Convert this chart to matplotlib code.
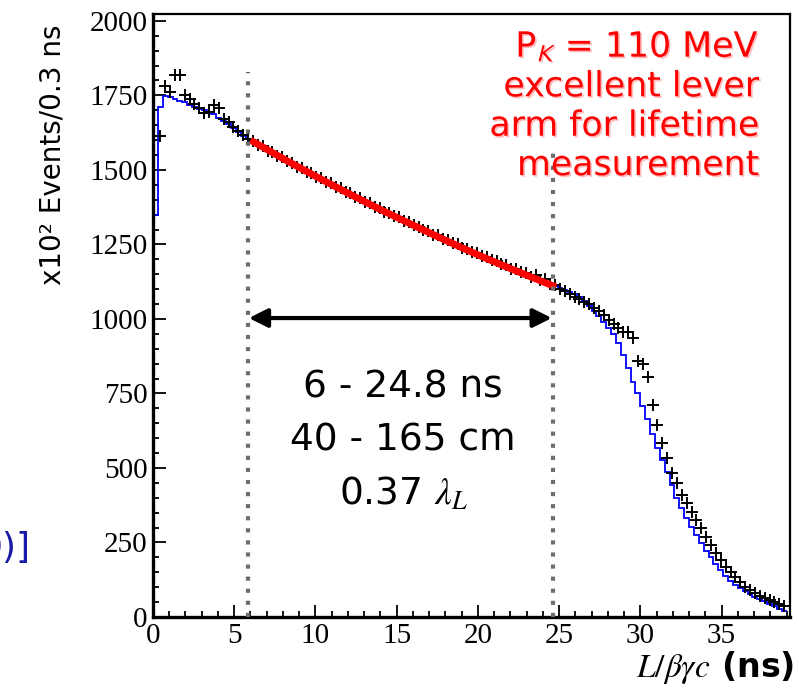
import numpy as np
import matplotlib
matplotlib.use("Agg")
import matplotlib.pyplot as plt
import matplotlib.patheffects as pe

plt.rcParams["mathtext.fontset"] = "stix"

# histogram (blue), bins of 0.3 ns from 0 to 39 ns
bin_width = 0.3
hist_early = [1350, 1712, 1748, 1745, 1738, 1730, 1727, 1718, 1712, 1706,
              1700, 1695, 1688, 1675, 1664, 1653, 1642, 1628, 1614, 1603]
hist_mid = [1595, 1586, 1577, 1567, 1558, 1549, 1540, 1531, 1522, 1513,
            1504, 1496, 1487, 1478, 1470, 1461, 1453, 1444, 1436, 1428,
            1419, 1411, 1403, 1395, 1386, 1378, 1370, 1362, 1354, 1347,
            1339, 1331, 1323, 1316, 1308, 1300, 1293, 1285, 1278, 1270,
            1263, 1256, 1248, 1241, 1234, 1227, 1220, 1213, 1206, 1199,
            1192, 1185, 1178, 1171, 1164, 1158, 1151, 1144, 1138, 1131,
            1124, 1118, 1111]
hist_late = [1105, 1098, 1091, 1082, 1072, 1060, 1045, 1028, 1010, 990,
             970, 950, 918, 879, 835, 789, 750, 708, 665, 615,
             567, 527, 487, 443, 400, 366, 332, 302, 275, 248,
             222, 200, 178, 157, 138, 122, 108, 96, 86, 77,
             68, 60, 52, 44, 36, 28, 20]

# data points (black crosses), same bins
data_early = [np.nan, 1614, 1780, 1762, 1818, 1818, 1752, 1738, 1722, 1708,
              1692, 1695, 1718, 1708, 1670, 1660, 1645, 1630, 1618, 1605]
data_mid = [1597, 1584, 1579, 1565, 1560, 1547, 1542, 1529, 1524, 1511,
            1506, 1494, 1489, 1476, 1472, 1459, 1455, 1442, 1438, 1426,
            1421, 1409, 1405, 1393, 1388, 1376, 1372, 1360, 1356, 1345,
            1341, 1329, 1325, 1314, 1310, 1298, 1295, 1283, 1280, 1268,
            1265, 1254, 1250, 1239, 1236, 1225, 1222, 1211, 1208, 1197,
            1194, 1183, 1180, 1169, 1166, 1156, 1153, 1142, 1146, 1129,
            1133, 1116, 1113]
data_late = [1100, 1093, 1084, 1075, 1066, 1058, 1050, 1038, 1025, 1012,
             998, 982, 968, 956, 955, 935, 860, 848, 805, 711,
             644, 584, 534, 483, 450, 409, 382, 352, 325, 298,
             268, 242, 215, 191, 168, 151, 134, 117, 101, 91,
             81, 72, 64, 57, 50, 44, 38]

# fit curve (red), 6 - 24.8 ns
fit_t = [6.0, 8.0, 10.0, 12.0, 14.0, 16.0, 18.0, 20.0, 22.0, 24.8]
fit_n = [1600, 1538, 1479, 1422, 1367, 1315, 1264, 1215, 1169, 1107]

x_ticks = [0, 5, 10, 15, 20, 25, 30, 35]
y_ticks = [0, 250, 500, 750, 1000, 1250, 1500, 1750, 2000]
range_lo, range_hi = 5.85, 24.6

hist_counts = np.array(hist_early + hist_mid + hist_late, dtype=float)
data_counts = np.array(data_early + data_mid + data_late, dtype=float)
edges = np.arange(len(hist_counts) + 1) * bin_width
centers = edges[:-1] + bin_width / 2

fig = plt.figure(figsize=(7.99, 6.91), dpi=100)
ax = fig.add_axes([0.1915, 0.1071, 0.797, 0.8726])

ax.stairs(hist_counts, edges, baseline=None, color="#0000ff", lw=1.3, zorder=2)
ax.plot(centers, data_counts, ls="none", marker="+", ms=9, mew=1.4,
        color="black", zorder=3)
ax.plot(fit_t, fit_n, color="#ff0000", lw=5, solid_capstyle="butt", zorder=4)

# dotted range markers
ax.plot([range_lo, range_lo], [0, 1830], color="#6e6e6e", lw=3,
        ls=(0, (1, 1.9)), zorder=5)
ax.plot([range_hi, range_hi], [0, 1575], color="#6e6e6e", lw=3,
        ls=(0, (1, 1.9)), zorder=5)
ax.annotate("", xy=(range_hi - 0.05, 1003), xytext=(range_lo + 0.05, 1003),
            arrowprops=dict(arrowstyle="<|-|>", lw=3, color="black",
                            mutation_scale=28, shrinkA=0, shrinkB=0), zorder=6)

ax.text(15.4, 590, "6 - 24.8 ns\n40 - 165 cm\n0.37 $\\lambda_L$",
        ha="center", va="center", fontsize=27, family="DejaVu Sans",
        linespacing=1.6, zorder=7)

ax.text(0.952, 0.975, "P$_\\mathsf{K}$ = 110 MeV\nexcellent lever\narm for lifetime\nmeasurement",
        transform=ax.transAxes, ha="right", va="top", fontsize=25,
        family="DejaVu Sans", color="#ff0000", linespacing=1.2, zorder=7,
        path_effects=[pe.withSimplePatchShadow(offset=(1.2, -1.2),
                                               shadow_rgbFace="#ff9090", alpha=0.6)])

ax.set_xlim(0, 39.2)
ax.set_ylim(0, 2023)
ax.set_xticks(x_ticks)
ax.set_yticks(y_ticks)
ax.set_xticks(np.arange(0, 39.2, 1), minor=True)
ax.set_yticks(np.arange(0, 2001, 50), minor=True)
ax.tick_params(which="both", direction="in", top=False, right=False,
               labelsize=21, width=1.3, pad=4)
ax.tick_params(which="major", length=9)
ax.tick_params(which="minor", length=4.5)
for lab in ax.get_xticklabels() + ax.get_yticklabels():
    lab.set_family("Liberation Serif")

ax.spines["left"].set_linewidth(2.4)
ax.spines["bottom"].set_linewidth(2.4)
ax.spines["top"].set_linewidth(1.6)
ax.spines["right"].set_linewidth(1.6)

fig.text(0.066, 1 - 155 / 691, "x10\u00b2 Events/0.3 ns", rotation=90,
         ha="center", va="center", fontsize=20, family="DejaVu Sans")
fig.text(0.994, 1 - 668 / 691, "$L/\\beta\\gamma c$ (ns)", ha="right",
         va="center", fontsize=24, family="DejaVu Sans", fontweight="bold")
fig.text(0.038, 1 - 548 / 691, "0)]", ha="right", va="center", fontsize=26,
         family="DejaVu Sans", color="#1a1aa8")

fig.savefig("out.png", dpi=100)
